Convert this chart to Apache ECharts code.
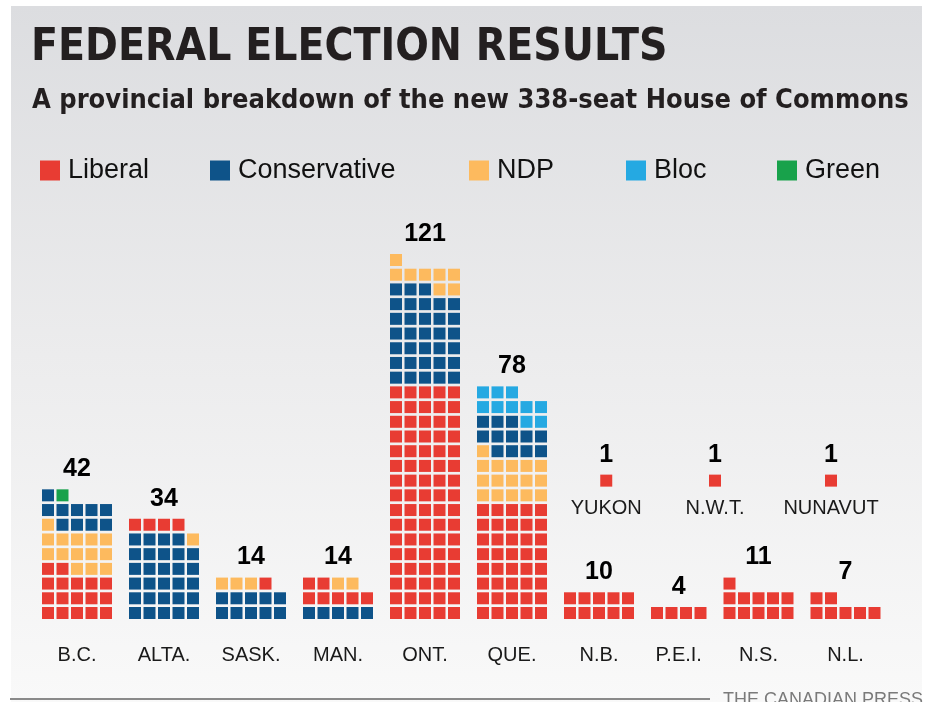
<!DOCTYPE html>
<html>
<head>
<meta charset="utf-8">
<script src="https://cdn.jsdelivr.net/npm/echarts@6/dist/echarts.min.js"></script>
<style>
  html, body { margin: 0; padding: 0; background: #fff; }
  #chart { width: 928px; height: 702px; }
</style>
</head>
<body>
<div id="chart"></div>
<script>
// seats won, per region
const regions = ['B.C.', 'ALTA.', 'SASK.', 'MAN.', 'ONT.', 'QUE.', 'N.B.', 'P.E.I.', 'N.S.', 'N.L.', 'YUKON', 'N.W.T.', 'NUNAVUT'];
const parties = ['Liberal', 'Conservative', 'NDP', 'Bloc', 'Green'];
const liberal      = [17,  4,  1, 7, 80, 40, 10, 4, 11, 7, 1, 1, 1];
const conservative = [10, 29, 10, 5, 33, 12,  0, 0,  0, 0, 0, 0, 0];
const ndp          = [14,  1,  3, 2,  8, 16,  0, 0,  0, 0, 0, 0, 0];
const bloc         = [ 0,  0,  0, 0,  0, 10,  0, 0,  0, 0, 0, 0, 0];
const green        = [ 1,  0,  0, 0,  0,  0,  0, 0,  0, 0, 0, 0, 0];

// order in which the squares are stacked in each region
const fillOrder = [
  ['Liberal', 'NDP', 'Conservative', 'Green'],
  ['Conservative', 'NDP', 'Liberal'],
  ['Conservative', 'NDP', 'Liberal'],
  ['Conservative', 'Liberal', 'NDP'],
  ['Liberal', 'Conservative', 'NDP'],
  ['Liberal', 'NDP', 'Conservative', 'Bloc'],
  ['Liberal'], ['Liberal'], ['Liberal'], ['Liberal'],
  ['Liberal'], ['Liberal'], ['Liberal']
];

// layout: where each block sits, in square units
const slotCol = [0, 6, 12, 18, 24, 30, 36, 42, 47, 53, 38.5, 46, 54];
const slotRow = [0, 0, 0, 0, 0, 0, 0, 0, 0, 0, 9, 9, 9];
const perRow = 5;

const colors = {
  Liberal: '#e83c33',
  Conservative: '#0e5389',
  NDP: '#fdba5e',
  Bloc: '#25a9e2',
  Green: '#18a24b'
};
const seats = { Liberal: liberal, Conservative: conservative, NDP: ndp, Bloc: bloc, Green: green };

const cells = {};
parties.forEach(p => { cells[p] = []; });
const totals = [];
const names = [];

regions.forEach((r, i) => {
  let k = 0;
  fillOrder[i].forEach(p => {
    for (let n = 0; n < seats[p][i]; n++) {
      cells[p].push([slotCol[i] + (k % perRow), slotRow[i] + Math.floor(k / perRow)]);
      k++;
    }
  });
  const cx = slotCol[i] + (Math.min(k, perRow) - 1) / 2;
  const topRow = slotRow[i] + Math.floor((k - 1) / perRow);
  totals.push({ value: [cx, topRow], total: k });
  names.push({ value: [cx, slotRow[i]], name: r, territory: slotRow[i] > 0 });
});

const chart = echarts.init(document.getElementById('chart'));

const legendLeft = [40, 210, 469, 626, 777];

const option = {
  backgroundColor: '#fff',
  animation: false,
  graphic: [
    {
      type: 'rect',
      z: -10,
      shape: { x: 11, y: 6, width: 911, height: 696 },
      style: {
        fill: new echarts.graphic.LinearGradient(0, 0, 0, 1, [
          { offset: 0, color: '#dcdde0' },
          { offset: 0.5, color: '#ececed' },
          { offset: 1, color: '#f9f9f9' }
        ])
      }
    },
    {
      type: 'line',
      shape: { x1: 10, y1: 699, x2: 710, y2: 699 },
      style: { stroke: '#8a8a8a', lineWidth: 2 }
    },
    {
      type: 'text',
      left: 723,
      top: 691,
      style: {
        text: 'THE CANADIAN PRESS',
        fill: '#7a7a7a',
        font: '18px "Liberation Sans", Arial, sans-serif'
      }
    }
  ],
  title: [
    {
      text: 'FEDERAL ELECTION RESULTS',
      left: 31,
      top: 27,
      padding: 0,
      textStyle: {
        fontFamily: '"DejaVu Sans Condensed", "DejaVu Sans", sans-serif',
        fontWeight: 'bold',
        fontSize: 44,
        color: '#231f20'
      }
    },
    {
      text: 'A provincial breakdown of the new 338-seat House of Commons',
      left: 32,
      top: 87,
      padding: 0,
      textStyle: {
        fontFamily: '"DejaVu Sans Condensed", "DejaVu Sans", sans-serif',
        fontWeight: 'bold',
        fontSize: 27,
        color: '#231f20'
      }
    }
  ],
  legend: parties.map((p, i) => ({
    data: [p],
    left: legendLeft[i],
    top: 157,
    padding: 0,
    itemWidth: 20,
    itemHeight: 20,
    icon: 'rect',
    selectedMode: false,
    itemStyle: { opacity: 1 },
    textStyle: {
      fontFamily: '"Liberation Sans", Arial, sans-serif',
      fontSize: 27,
      color: '#111',
      padding: [0, 0, 0, 3]
    }
  })),
  grid: { left: 40.75, right: 46.25, top: 252.65, bottom: 81.65 },
  xAxis: { type: 'value', min: -0.5, max: 57.5, show: false },
  yAxis: { type: 'value', min: -0.5, max: 24.5, show: false },
  series: parties.map(p => ({
    name: p,
    type: 'scatter',
    symbol: 'rect',
    symbolSize: 12,
    silent: true,
    itemStyle: { color: colors[p], opacity: 1 },
    data: cells[p]
  })).concat([
    {
      type: 'scatter',
      symbolSize: 1,
      silent: true,
      itemStyle: { color: 'transparent', opacity: 1 },
      data: totals,
      label: {
        show: true,
        position: 'inside',
        offset: [0, -26],
        formatter: d => d.data.total,
        fontFamily: '"Liberation Sans", Arial, sans-serif',
        fontWeight: 'bold',
        fontSize: 25,
        color: '#000'
      }
    },
    {
      type: 'scatter',
      symbolSize: 1,
      silent: true,
      itemStyle: { color: 'transparent', opacity: 1 },
      data: names.map(n => ({
        value: n.value,
        name: n.name,
        label: { offset: [0, n.territory ? 28 : 42] }
      })),
      label: {
        show: true,
        position: 'inside',
        formatter: '{b}',
        fontFamily: '"Liberation Sans", Arial, sans-serif',
        fontSize: 20,
        color: '#1a1a1a'
      }
    }
  ])
};

chart.setOption(option);
window.addEventListener('resize', () => chart.resize());
</script>
</body>
</html>
